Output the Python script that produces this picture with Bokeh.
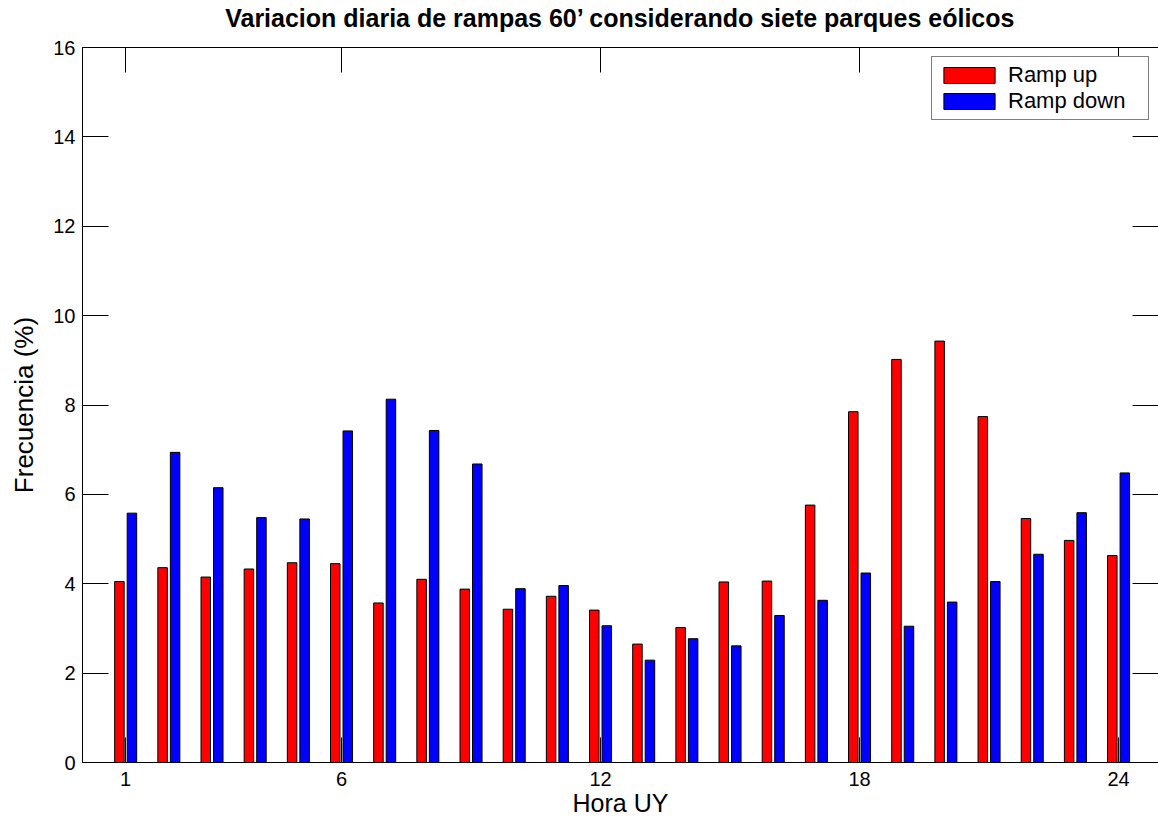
from bokeh.plotting import figure
from bokeh.models import (LinearAxis, FixedTicker, Range1d, Legend, LegendItem,
                          ColumnDataSource, CustomLabelingPolicy)
from bokeh.transform import dodge
from bokeh.embed import file_html
from bokeh.resources import INLINE

# ---- data ----
hours = list(range(1, 25))
ramp_up = [4.05, 4.36, 4.15, 4.33, 4.47, 4.45, 3.57, 4.10, 3.88, 3.43, 3.72, 3.41,
           2.65, 3.02, 4.04, 4.06, 5.76, 7.85, 9.02, 9.43, 7.74, 5.46, 4.97, 4.63]
ramp_down = [5.58, 6.94, 6.15, 5.48, 5.45, 7.42, 8.13, 7.43, 6.68, 3.89, 3.96, 3.06,
             2.29, 2.77, 2.61, 3.29, 3.63, 4.24, 3.05, 3.59, 4.05, 4.66, 5.59, 6.48]
x_ticks = [1, 6, 12, 18, 24]
y_ticks = [0, 2, 4, 6, 8, 10, 12, 14, 16]
series_names = ["Ramp up", "Ramp down"]
series_colors = ["#ff0000", "#0000ff"]
title_text = "Variacion diaria de rampas 60\u2019 considerando siete parques e\u00f3licos"
x_title = "Hora UY"
y_title = "Frecuencia (%)"

FONT = "Liberation Sans"

src = ColumnDataSource(data=dict(hour=hours, up=ramp_up, down=ramp_down))

p = figure(width=1158, height=821,
           x_range=Range1d(0, 24.925), y_range=Range1d(0, 16),
           output_backend="svg", toolbar_location=None,
           min_border_left=82, min_border_right=0,
           min_border_top=47, min_border_bottom=59,
           background_fill_color="white", border_fill_color="white")

r_up = p.vbar(x=dodge("hour", -0.145, range=p.x_range), top="up", width=0.22, source=src,
              fill_color=series_colors[0], line_color="black", line_width=1)
r_dn = p.vbar(x=dodge("hour", 0.145, range=p.x_range), top="down", width=0.22, source=src,
              fill_color=series_colors[1], line_color="black", line_width=1)

p.grid.visible = False
p.outline_line_color = None

no_labels = CustomLabelingPolicy(code="""
    for (const i of indices) { indices.unset(i) }
    return indices
""")

# bottom axis
xa = p.xaxis[0]
xa.ticker = FixedTicker(ticks=x_ticks)
xa.major_tick_in = 25
xa.major_tick_out = 0
xa.minor_tick_line_color = None
xa.major_label_text_font = FONT
xa.major_label_text_font_size = "20px"
xa.major_label_text_color = "black"
xa.major_label_standoff = 9
xa.axis_label = x_title
xa.axis_label_text_font = FONT
xa.axis_label_text_font_size = "25px"
xa.axis_label_text_font_style = "normal"
xa.axis_label_text_color = "black"
xa.axis_label_standoff = 0
xa.axis_line_color = "black"
xa.major_tick_line_color = "black"

# left axis
ya = p.yaxis[0]
ya.ticker = FixedTicker(ticks=y_ticks)
ya.major_tick_in = 26
ya.major_tick_out = 0
ya.minor_tick_line_color = None
ya.major_label_text_font = FONT
ya.major_label_text_font_size = "20px"
ya.major_label_text_color = "black"
ya.major_label_standoff = 7
ya.axis_label = y_title
ya.axis_label_text_font = FONT
ya.axis_label_text_font_size = "26px"
ya.axis_label_text_font_style = "normal"
ya.axis_label_text_color = "black"
ya.axis_label_standoff = 11
ya.axis_line_color = "black"
ya.major_tick_line_color = "black"

# top axis (ticks only) carrying the chart title
top = LinearAxis(ticker=FixedTicker(ticks=x_ticks), major_tick_in=25, major_tick_out=0,
                 minor_tick_line_color=None, major_label_text_font_size="0px",
                 major_label_standoff=0, major_label_policy=no_labels,
                 axis_line_color="black", major_tick_line_color="black",
                 axis_label=title_text, axis_label_text_font=FONT,
                 axis_label_text_font_size="25px", axis_label_text_font_style="bold",
                 axis_label_text_color="black", axis_label_standoff=16)
p.add_layout(top, "above")

# right axis (ticks only)
right = LinearAxis(ticker=FixedTicker(ticks=y_ticks), major_tick_in=26, major_tick_out=0,
                   minor_tick_line_color=None, major_label_text_font_size="0px",
                   major_label_standoff=0, major_label_policy=no_labels,
                   axis_line_color=None, major_tick_line_color="black")
p.add_layout(right, "right")

legend = Legend(items=[LegendItem(label=series_names[0], renderers=[r_up]),
                       LegendItem(label=series_names[1], renderers=[r_dn])],
                location="top_right", margin=9, padding=5, spacing=0,
                glyph_width=64, glyph_height=20, label_height=20, label_standoff=7,
                label_width=135,
                label_text_font=FONT, label_text_font_size="22px",
                label_text_color="black",
                border_line_color="black", border_line_width=1,
                background_fill_color="white", background_fill_alpha=1.0)
p.add_layout(legend)

open("out.html", "w").write(file_html(p, INLINE))
